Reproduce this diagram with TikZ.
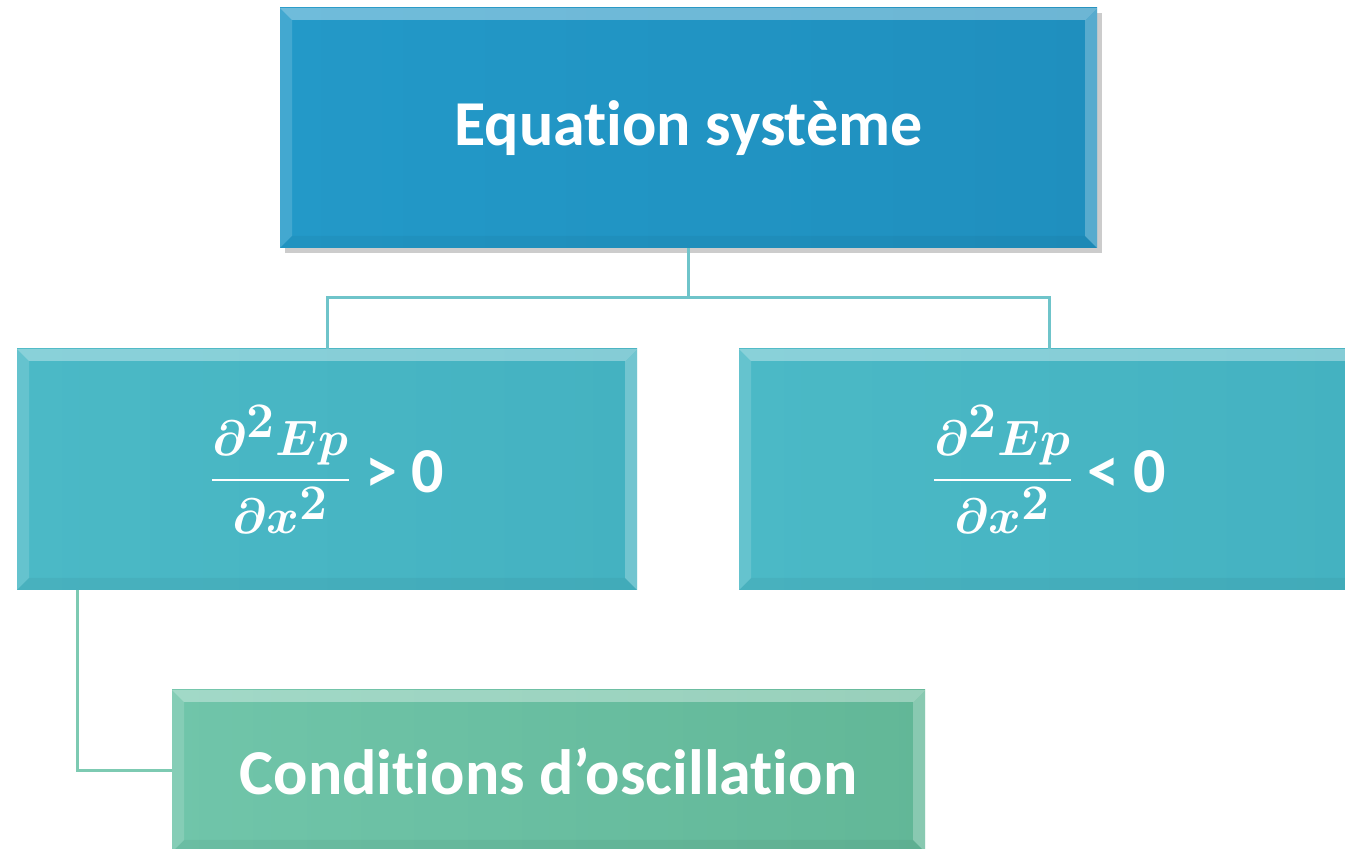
\documentclass[tikz,border=0pt]{standalone}
\usepackage{amsmath}
\usepackage{fontspec}
\setmainfont{Carlito}[Ligatures=CommonOff]
\usepackage{xcolor}
\usepackage{tikz}
\usetikzlibrary{positioning, shadows, calc}

\definecolor{eqblue}{HTML}{2399C8}
\definecolor{eqblueR}{HTML}{1F8FBE}
\definecolor{condteal}{HTML}{4BB9C6}
\definecolor{condtealR}{HTML}{44B2C1}
\definecolor{oscgreen}{HTML}{70C5AA}
\definecolor{oscgreenR}{HTML}{62B797}
\definecolor{linkteal}{HTML}{6FC4CA}
\definecolor{linkgreen}{HTML}{7DCAB2}

\begin{document}
\begin{tikzpicture}[
    x=0.5pt, y=-0.5pt,
    box/.style 2 args={rectangle, left color=#1, right color=#2, draw=none, inner sep=0pt,
        text=white, font=\bfseries\fontsize{32}{38}\selectfont,
        path picture={
            \coordinate (nw) at (path picture bounding box.north west);
            \coordinate (ne) at (path picture bounding box.north east);
            \coordinate (sw) at (path picture bounding box.south west);
            \coordinate (se) at (path picture bounding box.south east);
            \fill[white, opacity=.35] (nw) -- (ne) -- ([shift={(-6pt,-6pt)}]ne) -- ([shift={(6pt,-6pt)}]nw) -- cycle;
            \fill[white, opacity=.15] (nw) -- ([shift={(6pt,-6pt)}]nw) -- ([shift={(6pt,6pt)}]sw) -- (sw) -- cycle;
            \fill[white, opacity=.25] (ne) -- ([shift={(-6pt,-6pt)}]ne) -- ([shift={(-6pt,6pt)}]se) -- (se) -- cycle;
            \fill[black, opacity=.04] (sw) -- ([shift={(6pt,6pt)}]sw) -- ([shift={(-6pt,6pt)}]se) -- (se) -- cycle;
        }},
    link/.style={line width=1.5pt, draw=#1}
]
    \useasboundingbox (0,0) rectangle (1345,849);

    % top level
    \node[box={eqblue}{eqblueR}, minimum width=408.5pt, minimum height=120pt,
          drop shadow={shadow xshift=2.5pt, shadow yshift=-2.5pt, opacity=.4}] (eq) at (688.5,128) {Equation système};

    % second level
    \node[box={condteal}{condtealR}, minimum width=310pt, minimum height=120.5pt] (pos) at (327,469.5)
        {{\boldmath\fontsize{34}{40}\selectfont$\displaystyle\frac{\partial^2 Ep}{\partial x^2}$} > 0};
    \node[box={condteal}{condtealR}, minimum width=310pt, minimum height=120.5pt] (neg) at (1049,469.5)
        {{\boldmath\fontsize{34}{40}\selectfont$\displaystyle\frac{\partial^2 Ep}{\partial x^2}$} < 0};

    % third level
    \node[box={oscgreen}{oscgreenR}, minimum width=376.5pt, minimum height=81pt] (osc) at (548.5,771) {Conditions d’oscillation};

    % links
    \coordinate (fork) at ($(eq.south)+(0,49)$);
    \coordinate (tap) at ($(pos.south west)+(61,0)$);
    \draw[link=linkteal] (eq.south) -- (fork) -| (pos.north);
    \draw[link=linkteal] (fork) -| (neg.north);
    \draw[link=linkgreen] (tap) |- (osc.west);
\end{tikzpicture}
\end{document}
